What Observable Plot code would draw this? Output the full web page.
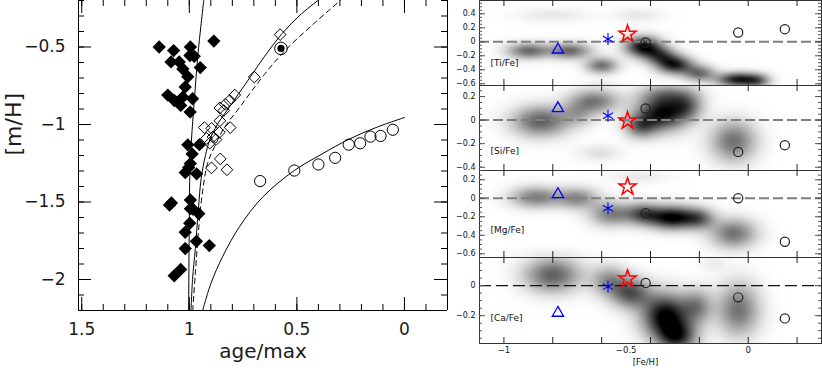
<!DOCTYPE html>
<html><head><meta charset="utf-8">
<script src="https://cdn.jsdelivr.net/npm/d3@7"></script>
<script src="https://cdn.jsdelivr.net/npm/@observablehq/plot@0.6"></script>
<style>
html,body{margin:0;padding:0;background:#fff;}
#chart{position:relative;width:822px;height:368px;overflow:hidden;background:#fff;}
</style></head><body><div id="chart"></div>
<script>
// ---------------- LEFT PANEL DATA ----------------
const filledAge = [1.14,1.073,0.995,0.886,1.085,1.047,0.997,0.977,0.949,1.03,1.007,1.019,1.10,1.07,1.03,1.04,0.985,0.996,1.007,0.953,0.987,0.995,1.003,1.019,0.966,1.083,1.092,0.995,0.995,0.984,0.956,0.998,1.019,0.967,0.907,1.019,1.04,1.07];
const filledMH  = [-0.50,-0.523,-0.50,-0.462,-0.596,-0.596,-0.555,-0.56,-0.633,-0.642,-0.692,-0.758,-0.81,-0.845,-0.823,-0.877,-0.834,-0.92,-1.131,-1.13,-1.19,-1.252,-1.278,-1.31,-1.318,-1.506,-1.52,-1.487,-1.543,-1.545,-1.575,-1.637,-1.695,-1.754,-1.781,-1.80,-1.935,-1.976];

const openDiaAge = [0.578,0.698,0.789,0.812,0.833,0.858,0.84,0.858,0.93,0.896,0.81,0.86,0.89,0.92,0.876,0.905,0.856,0.897,0.825];
const openDiaMH  = [-0.42,-0.694,-0.81,-0.845,-0.87,-0.893,-0.91,-0.976,-1.02,-1.025,-1.02,-1.05,-1.08,-1.09,-1.097,-1.12,-1.222,-1.28,-1.292];

const circAge = [0.671,0.512,0.40,0.322,0.259,0.206,0.158,0.111,0.054];
const circMH  = [-1.365,-1.297,-1.258,-1.215,-1.13,-1.121,-1.078,-1.074,-1.034];

const specialAge = [0.574];
const specialMH  = [-0.509];

const curve1Age = [1.003,1.0,0.997,0.99,0.977,0.96,0.945,0.933];
const curve1MH  = [-2.2,-1.6,-1.3,-1.1,-0.85,-0.55,-0.35,-0.2];
const curve2Age = [0.992,0.985,0.972,0.958,0.945,0.925,0.905,0.87,0.82,0.77,0.71,0.65,0.573,0.49,0.403];
const curve2MH  = [-2.2,-2.0,-1.8,-1.55,-1.35,-1.2,-1.1,-1.0,-0.9,-0.8,-0.68,-0.56,-0.42,-0.3,-0.2];
const curve3Age = [0.984,0.972,0.955,0.94,0.915,0.884,0.837,0.767,0.651,0.558,0.43,0.298];
const curve3MH  = [-2.2,-1.96,-1.65,-1.45,-1.25,-1.147,-1.02,-0.891,-0.677,-0.527,-0.36,-0.2];
const curve4Age = [0.938,0.899,0.845,0.767,0.659,0.512,0.383,0.256,0.133,0.0];
const curve4MH  = [-2.2,-2.023,-1.852,-1.66,-1.468,-1.297,-1.19,-1.094,-1.02,-0.955];

const leftXLabels = [1.5,1,0.5,0];
const leftYLabels = [-2,-1.5,-1,-0.5];

// ---------------- RIGHT PANELS DATA ----------------
const feTicks = [-1,-0.8,-0.6,-0.4,-0.2,0,0.2];
const feLabels = [-1,-0.5,0];
const panelNames = ["[Ti/Fe]","[Si/Fe]","[Mg/Fe]","[Ca/Fe]"];
const panelLabelTicks = [[-0.6,-0.4,-0.2,0,0.2,0.4],[-0.4,-0.2,0,0.2],[-0.6,-0.4,-0.2,0,0.2],[-0.2,0]];

const triFe = -0.779, astFe = -0.574, starFe = -0.494;
const circFe = [-0.42,-0.041,0.15];
const triVals  = [-0.114, 0.099, 0.043, -0.182];
const astVals  = [0.04, 0.037, -0.108, -0.007];
const starVals = [0.11, -0.006, 0.125, 0.045];
const circVals = [[-0.01,0.133,0.18],[0.099,-0.27,-0.213],[-0.162,0.0,-0.47],[0.018,-0.078,-0.218]];

// density clouds: [Fe/H centre, value centre, strength, spread Fe, spread value]
const tiClouds = [[-0.9,-0.13,0.58,0.06,0.08],[-0.73,-0.13,0.58,0.06,0.08],[-0.6,-0.34,0.55,0.045,0.08],
  [-0.43,-0.07,0.95,0.05,0.1],[-0.36,-0.2,0.6,0.045,0.09],[-0.3,-0.33,0.85,0.05,0.09],[-0.2,-0.45,0.55,0.045,0.08],
  [-0.04,-0.54,0.9,0.06,0.07],[0.04,-0.56,0.4,0.035,0.07],[-0.8,0.38,0.09,0.1,0.07],[-0.45,0.38,0.09,0.07,0.07],
  [-0.6,-0.64,0.12,0.06,0.05]];
const siClouds = [[-0.85,-0.01,0.62,0.08,0.09],[-0.63,0.16,0.52,0.07,0.07],[-0.35,0.06,0.95,0.07,0.1],
  [-0.44,-0.05,0.55,0.045,0.07],[-0.25,0.12,0.45,0.045,0.08],[-0.33,0.22,0.35,0.08,0.06],[-0.06,-0.18,0.55,0.065,0.12],
  [-0.61,-0.28,0.12,0.06,0.05],[-0.7,0.05,0.25,0.05,0.07]];
const mgClouds = [[-0.87,0.01,0.5,0.07,0.08],[-0.7,0.0,0.45,0.06,0.08],[-0.56,-0.17,0.5,0.06,0.09],
  [-0.31,-0.21,1.0,0.065,0.085],[-0.43,-0.17,0.6,0.05,0.08],[-0.2,-0.22,0.5,0.045,0.08],[-0.06,-0.38,0.55,0.065,0.11],
  [-0.45,0.23,0.09,0.08,0.05],[-0.8,-0.62,0.09,0.1,0.05]];
const caClouds = [[-0.8,0.07,0.62,0.08,0.08],[-0.57,0.03,0.42,0.05,0.07],[-0.34,-0.2,1.0,0.065,0.1],
  [-0.48,-0.05,0.65,0.055,0.07],[-0.29,-0.34,0.75,0.055,0.07],[-0.21,-0.14,0.45,0.045,0.08],[-0.04,-0.16,0.55,0.06,0.12],
  [-0.14,0.15,0.07,0.04,0.04]];
const panelClouds = [tiClouds, siClouds, mgClouds, caClouds];

// ---------------- RENDER ----------------
const chart = document.getElementById("chart");
const font = "DejaVu Sans, sans-serif";
const fmt = d => (d < 0 ? "\u2212" : "") + String(Math.abs(d));
function place(svg, left, top) {
  svg.style.position = "absolute";
  svg.style.left = left + "px";
  svg.style.top = top + "px";
  svg.style.overflow = "visible";
  chart.appendChild(svg);
}
const zip = (a, b) => a.map((v, i) => ({x: v, y: b[i]}));

// Left chart
{
  const W = 470, H = 368, mL = 78, mR = 23, mT = 0, mB = 58;
  const fw = W - mL - mR, fh = H - mT - mB;
  const xDom = [1.515, -0.2], yDom = [-2.2, -0.2];
  const xMinor = d3.range(-1, 16).map(d => d / 10);
  const yMinor = d3.range(-22, -1).map(d => d / 10);
  const tx = (vals, len) => [
    Plot.tickX(vals, {x: d => d, insetTop: fh - len, stroke: "#000"}),
    Plot.tickX(vals, {x: d => d, insetBottom: fh - len, stroke: "#000"})];
  const ty = (vals, len) => [
    Plot.tickY(vals, {y: d => d, insetRight: fw - len, stroke: "#000"}),
    Plot.tickY(vals, {y: d => d, insetLeft: fw - len, stroke: "#000"})];
  const svg = Plot.plot({
    width: W, height: H, marginLeft: mL, marginRight: mR, marginTop: mT, marginBottom: mB,
    x: {domain: xDom}, y: {domain: yDom},
    style: {fontFamily: font, color: "#1a1a1a", background: "transparent"},
    marks: [
      Plot.line(zip(curve1Age, curve1MH), {x: "x", y: "y", curve: "catmull-rom", stroke: "#000", strokeWidth: 1}),
      Plot.line(zip(curve2Age, curve2MH), {x: "x", y: "y", curve: "catmull-rom", stroke: "#000", strokeWidth: 1}),
      Plot.line(zip(curve3Age, curve3MH), {x: "x", y: "y", curve: "catmull-rom", stroke: "#000", strokeWidth: 1, strokeDasharray: "5,4"}),
      Plot.line(zip(curve4Age, curve4MH), {x: "x", y: "y", curve: "catmull-rom", stroke: "#000", strokeWidth: 1}),
      Plot.dot(zip(openDiaAge, openDiaMH), {x: "x", y: "y", symbol: "diamond2", r: 5.3, fill: "none", stroke: "#000", strokeWidth: 1}),
      Plot.dot(zip(filledAge, filledMH), {x: "x", y: "y", symbol: "diamond2", r: 6, fill: "#000", stroke: "none"}),
      Plot.dot(zip(circAge, circMH), {x: "x", y: "y", r: 5.6, fill: "none", stroke: "#000", strokeWidth: 1}),
      Plot.dot(zip(specialAge, specialMH), {x: "x", y: "y", r: 6.3, fill: "none", stroke: "#000", strokeWidth: 1}),
      Plot.dot(zip(specialAge, specialMH), {x: "x", y: "y", r: 3.6, fill: "#000", stroke: "none"}),
      Plot.ruleX(xDom, {stroke: "#000"}),
      Plot.ruleY([yDom[0]], {stroke: "#000"}),
      ...tx(xMinor, 6), ...tx(leftXLabels, 13),
      ...ty(yMinor, 6), ...ty(leftYLabels, 13),
      Plot.axisX({ticks: leftXLabels, tickFormat: fmt, tickSize: 0, tickPadding: 12, fontSize: 17, label: null}),
      Plot.axisY({ticks: leftYLabels, tickFormat: fmt, tickSize: 0, tickPadding: 13, fontSize: 17, label: null}),
      Plot.text(["age/max"], {text: d => d, frameAnchor: "bottom", dy: 47, fontSize: 20, letterSpacing: 1.5}),
      Plot.text(["[m/H]"], {text: d => d, frameAnchor: "left", dx: -65, rotate: -90, fontSize: 22, letterSpacing: 1.5})
    ]
  });
  place(svg, 0, 0);
}

// Right panels
const frames = [[0, 85, [-0.625, 0.59]], [85, 85, [-0.428, 0.294]], [170, 87, [-0.64, 0.30]], [257, 86, [-0.385, 0.187]]];
const labelDy = [-20, -17, -25, -23];
const feDom = [-1.1, 0.3];
frames.forEach(([top, fh, yDom], i) => {
  const last = i === 3;
  const W = 382, mL = 39, mR = 1, mT = 5, mB = last ? 26 : 5;
  const fw = W - mL - mR;
  const clouds = panelClouds[i];
  const dens = (x, y) => {
    let s = 0;
    for (const [cx, cy, w, sx, sy] of clouds) {
      const a = (x - cx) / sx, b = (y - cy) / sy;
      s += w * Math.exp(-0.5 * (a * a + b * b));
    }
    return s;
  };
  const yMinor = d3.range(Math.ceil(yDom[0] * 20), Math.floor(yDom[1] * 20) + 1).map(d => d / 20);
  const tx = (vals, len) => [
    Plot.tickX(vals, {x: d => d, insetTop: fh - len, stroke: "#222"}),
    Plot.tickX(vals, {x: d => d, insetBottom: fh - len, stroke: "#222"})];
  const ty = (vals, len) => [
    Plot.tickY(vals, {y: d => d, insetRight: fw - len, stroke: "#555"}),
    Plot.tickY(vals, {y: d => d, insetLeft: fw - len, stroke: "#555"})];
  const zero = last
    ? Plot.ruleY([0], {stroke: "#111", strokeWidth: 1.3, strokeDasharray: "12,5"})
    : Plot.ruleY([0], {stroke: "#808080", strokeWidth: 2, strokeDasharray: "10,4"});
  const marks = [
    Plot.raster({fill: dens, x1: feDom[0], x2: feDom[1], y1: yDom[0], y2: yDom[1], pixelSize: 1}),
    zero,
    Plot.dot(circFe.map((f, k) => ({x: f, y: circVals[i][k]})), {x: "x", y: "y", r: 4.6, fill: "none", stroke: "#222", strokeWidth: 1.2}),
    Plot.dot([{x: triFe, y: triVals[i]}], {x: "x", y: "y", symbol: "triangle", r: 4.2, fill: "none", stroke: "#0000ff", strokeWidth: 1.3}),
    Plot.dot([{x: astFe, y: astVals[i]}], {x: "x", y: "y", symbol: "asterisk", r: 5.6, stroke: "#0000ff", strokeWidth: 1.1}),
    Plot.dot([{x: starFe, y: starVals[i]}], {x: "x", y: "y", symbol: "star", r: 5.4, fill: "none", stroke: "#ff0000", strokeWidth: 1.5}),
    Plot.frame({stroke: "#333"}),
    ...tx(feTicks, 6),
    ...ty(yMinor, 3), ...ty(panelLabelTicks[i], 6),
    Plot.axisY({ticks: panelLabelTicks[i], tickFormat: fmt, tickSize: 0, tickPadding: 4, fontSize: 8, label: null}),
    Plot.text([panelNames[i]], {text: d => d, frameAnchor: "bottom-left", dx: 11, dy: labelDy[i], textAnchor: "start", fontSize: 9})
  ];
  if (last) {
    marks.push(Plot.axisX({ticks: feLabels, tickFormat: fmt, tickSize: 0, tickPadding: 3, fontSize: 8.5, label: null}));
    marks.push(Plot.text(["[Fe/H]"], {text: d => d, frameAnchor: "bottom", dx: -5, dy: 21, fontSize: 8.5}));
  }
  const svg = Plot.plot({
    width: W, height: fh + mT + mB, marginLeft: mL, marginRight: mR, marginTop: mT, marginBottom: mB,
    x: {domain: feDom, axis: last ? undefined : null},
    y: {domain: yDom},
    color: {type: "linear", domain: [0, 1], range: ["#ffffff", "#000000"], clamp: true},
    style: {fontFamily: font, color: "#111", background: "transparent"},
    marks
  });
  place(svg, 440, top - mT);
});
</script></body></html>
